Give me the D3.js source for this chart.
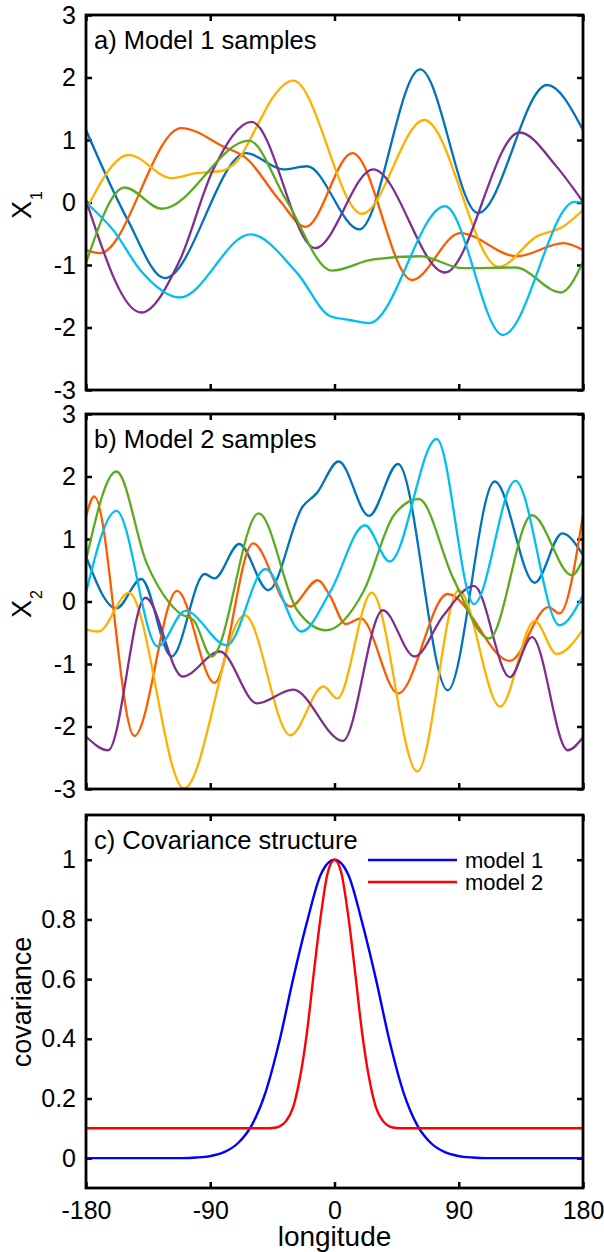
<!DOCTYPE html>
<html>
<head>
<meta charset="utf-8">
<script src="https://cdn.jsdelivr.net/npm/d3@7"></script>
<style>
  body { margin: 0; background: #fff; }
  svg { display: block; font-family: "Liberation Sans", Arial, sans-serif; }
</style>
</head>
<body>
<div id="chart"></div>
<script>
// Tick values
const lonTicks = [-180, -90, 0, 90, 180];
const sampleTicks = [-3, -2, -1, 0, 1, 2, 3];
const covTicks = [0, 0.2, 0.4, 0.6, 0.8, 1];

// Sample colours (same order in both sample panels)
const sampleColors = ['#0072bd', '#ff5a00', '#ffb000', '#7e2f8e', '#5aab1e', '#00bff0'];

// Model 1 samples: [longitude, value]
const m1Blue = [[-180,1.16],[-150,-0.27],[-123,-1.21],[-64,0.79],[-37,0.53],[-20,0.58],[18,-0.43],[62,2.13],[104,-0.17],[154,1.88],[180,1.16]];
const m1Orange = [[-180,-0.76],[-170,-0.81],[-111,1.19],[-80,0.89],[-64,0.71],[-40,0.04],[-21,-0.39],[13,0.79],[56,-1.24],[91,-0.49],[132,-0.86],[166,-0.65],[180,-0.76]];
const m1Yellow = [[-180,-0.12],[-149,0.76],[-118,0.39],[-100,0.47],[-83,0.5],[-70,0.68],[-55,1.27],[-45,1.67],[-30,1.95],[20,-0.18],[65,1.32],[119,-1.03],[146,-0.55],[166,-0.38],[180,-0.12]];
const m1Purple = [[-180,0.04],[-140,-1.76],[-112,-0.92],[-88,0.52],[-60,1.29],[-14,-0.73],[28,0.53],[80,-1.12],[134,1.12],[161,0.57],[180,0.01]];
const m1Green = [[-180,-0.97],[-152,0.24],[-125,-0.1],[-62,0.99],[-35,0.04],[-2,-1.09],[28,-0.91],[62,-0.86],[93,-1.05],[131,-1.04],[164,-1.44],[180,-0.95]];
const m1Cyan = [[-180,0],[-160,-0.45],[-140,-1.1],[-112,-1.52],[-61,-0.51],[-27,-1.13],[-3,-1.82],[11,-1.88],[25,-1.93],[80,-0.06],[122,-2.12],[174,0.01],[180,0]];

// Model 2 samples: [longitude, value]
const m2Blue = [[-180,0.72],[-158,-0.11],[-140,0.36],[-118,-0.88],[-94,0.44],[-87,0.37],[-69,0.92],[-48,0.18],[-23,1.52],[-13,1.73],[3,2.24],[25,1.37],[46,2.2],[82,-1.42],[116,1.92],[145,0.3],[165,1.09],[180,0.74]];
const m2Orange = [[-180,1.36],[-174,1.68],[-145,-2.15],[-114,0.17],[-87,-1.3],[-59,0.93],[-32,-0.08],[-12,0.34],[-3,0.08],[8,-0.36],[19,-0.27],[46,-1.47],[82,0.12],[127,-0.95],[155,-0.09],[163,-0.19],[180,1.38]];
const m2Yellow = [[-180,-0.45],[-171,-0.48],[-149,0.14],[-109,-2.99],[-65,-0.22],[-32,-2.14],[-8,-1.36],[2,-1.55],[27,0.14],[60,-2.72],[90,0.18],[120,-1.68],[145,-0.31],[161,-0.84],[180,-0.45]];
const m2Purple = [[-180,-2.16],[-164,-2.38],[-137,0.06],[-110,-1.2],[-83,-0.8],[-56,-1.63],[-30,-1.41],[6,-2.23],[35,-0.14],[58,-0.88],[79,-0.22],[101,0.25],[127,-1.21],[143,-0.57],[169,-2.38],[180,-2.17]];
const m2Green = [[-180,0.66],[-158,2.08],[-136,0.61],[-112,-0.19],[-102,-0.3],[-89,-0.88],[-55,1.41],[-27,-0.14],[-6,-0.46],[21,0.16],[43,1.38],[61,1.64],[86,0.37],[112,-0.59],[143,1.38],[172,0.42],[180,0.68]];
const m2Cyan = [[-180,0.14],[-158,1.45],[-128,-0.72],[-108,-0.15],[-78,-0.7],[-50,0.52],[-24,-0.48],[-3,0.16],[22,1.22],[40,0.64],[74,2.6],[101,-0.04],[131,1.93],[163,-0.38],[180,0.1]];

// Covariance vs longitude offset
const covLon1 = [-180,-110,-100,-90,-80,-70,-60,-50,-40,-30,-20,-10,0,10,20,30,40,50,60,70,80,90,100,110,180];
const covModel1 = [0,0,0.002,0.007,0.02,0.05,0.11,0.22,0.39,0.6,0.79,0.95,1,0.95,0.79,0.6,0.39,0.22,0.11,0.05,0.02,0.007,0.002,0,0];
const covLon2 = [-180,-50,-45,-40,-35,-30,-25,-20,-15,-10,-5,0,5,10,15,20,25,30,35,40,45,50,180];
const covModel2 = [0.1,0.1,0.101,0.106,0.125,0.17,0.27,0.42,0.62,0.81,0.955,1,0.955,0.81,0.62,0.42,0.27,0.17,0.125,0.106,0.101,0.1,0.1];

const width = 604, height = 1252;
const left = 86, right = 583;

const svg = d3.select('#chart')
    .append('svg')
    .attr('width', width)
    .attr('height', height);

const x = d3.scaleLinear().domain([-180, 180]).range([left, right]);

// Draw one framed panel with inward ticks on all four sides
function drawPanel(top, bottom, yDomain, yTicks, showLonLabels, id) {
    const y = d3.scaleLinear().domain(yDomain).range([bottom, top]);
    const g = svg.append('g');

    g.append('clipPath')
        .attr('id', id)
        .append('rect')
        .attr('x', left)
        .attr('y', top)
        .attr('width', right - left)
        .attr('height', bottom - top);

    const fmt = d => String(d);

    const axes = [
        g.append('g').attr('transform', `translate(${left},0)`)
            .call(d3.axisLeft(y).tickValues(yTicks).tickSize(-6).tickPadding(10).tickFormat(fmt)),
        g.append('g').attr('transform', `translate(${right},0)`)
            .call(d3.axisRight(y).tickValues(yTicks).tickSize(-6).tickFormat('')),
        g.append('g').attr('transform', `translate(0,${top})`)
            .call(d3.axisTop(x).tickValues(lonTicks).tickSize(-6).tickFormat('')),
        g.append('g').attr('transform', `translate(0,${bottom})`)
            .call(d3.axisBottom(x).tickValues(lonTicks).tickSize(-6).tickPadding(13)
                .tickFormat(showLonLabels ? fmt : ''))
    ];

    axes.forEach(a => {
        a.select('.domain').remove();
        a.selectAll('line').attr('stroke', '#000').attr('stroke-width', 2.5);
        a.selectAll('text')
            .attr('font-size', 25)
            .attr('font-family', '"Liberation Sans", Arial, sans-serif')
            .attr('fill', '#000');
    });

    return { g, y, top, bottom, id };
}

function drawLines(panel, seriesList, colors, widthPx) {
    const line = d3.line()
        .x(d => x(d[0]))
        .y(d => panel.y(d[1]))
        .curve(d3.curveMonotoneX);

    panel.g.append('g')
        .attr('clip-path', `url(#${panel.id})`)
        .selectAll('path')
        .data(seriesList)
        .enter()
        .append('path')
        .attr('d', line)
        .attr('fill', 'none')
        .attr('stroke', (d, i) => colors[i])
        .attr('stroke-width', widthPx);
}

function drawFrame(panel, title) {
    panel.g.append('rect')
        .attr('x', left)
        .attr('y', panel.top)
        .attr('width', right - left)
        .attr('height', panel.bottom - panel.top)
        .attr('fill', 'none')
        .attr('stroke', '#000')
        .attr('stroke-width', 2.8);

    panel.g.append('text')
        .attr('x', 94)
        .attr('y', panel.top + 34)
        .attr('font-size', 25.5)
        .text(title);
}

// a) Model 1 samples
const pa = drawPanel(15, 390, [-3, 3], sampleTicks, false, 'clip-a');
drawLines(pa, [m1Blue, m1Orange, m1Yellow, m1Purple, m1Green, m1Cyan], sampleColors, 2.3);
drawFrame(pa, 'a) Model 1 samples');

// b) Model 2 samples
const pb = drawPanel(414, 789, [-3, 3], sampleTicks, false, 'clip-b');
drawLines(pb, [m2Blue, m2Orange, m2Yellow, m2Purple, m2Green, m2Cyan], sampleColors, 2.3);
drawFrame(pb, 'b) Model 2 samples');

// c) Covariance structure
const pc = drawPanel(815, 1188, [-0.1, 1.15], covTicks, true, 'clip-c');
const cov1 = covLon1.map((d, i) => [d, covModel1[i]]);
const cov2 = covLon2.map((d, i) => [d, covModel2[i]]);
drawLines(pc, [cov1, cov2], ['#0000ff', '#ff0000'], 2.4);
drawFrame(pc, 'c) Covariance structure');

// Legend
const legendItems = [
    { label: 'model 1', color: '#0000ff' },
    { label: 'model 2', color: '#ff0000' }
];
const legend = svg.append('g');
legendItems.forEach((d, i) => {
    const ly = 860 + i * 22;
    legend.append('line')
        .attr('x1', 368).attr('x2', 457)
        .attr('y1', ly).attr('y2', ly)
        .attr('stroke', d.color)
        .attr('stroke-width', 2.4);
    legend.append('text')
        .attr('x', 465)
        .attr('y', ly)
        .attr('dy', '0.36em')
        .attr('font-size', 22)
        .text(d.label);
});

// Axis labels
function yLabel(cy, main, sub) {
    const t = svg.append('text')
        .attr('transform', `translate(31,${cy}) rotate(-90)`)
        .attr('text-anchor', 'middle')
        .attr('font-size', 27)
        .text(main);
    if (sub) {
        t.append('tspan')
            .attr('font-size', 16)
            .attr('dy', 11)
            .attr('dx', 1)
            .text(sub);
    }
}
yLabel(205, 'X', '1');
yLabel(604, 'X', '2');
yLabel(1002, 'covariance');

svg.append('text')
    .attr('x', x(0))
    .attr('y', 1246)
    .attr('text-anchor', 'middle')
    .attr('font-size', 28)
    .text('longitude');
</script>
</body>
</html>
